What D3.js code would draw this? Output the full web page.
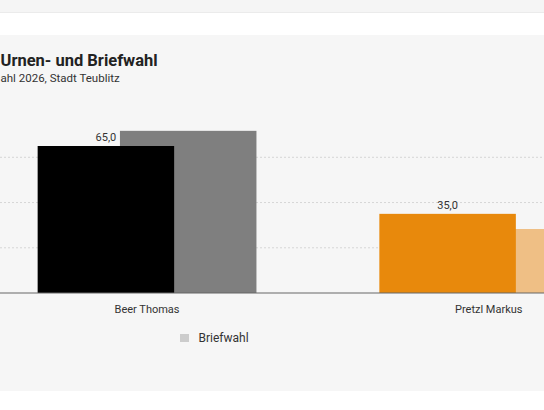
<!DOCTYPE html>
<html>
<head>
<meta charset="utf-8">
<script src="https://cdn.jsdelivr.net/npm/d3@7"></script>
<style>
  html, body { margin: 0; padding: 0; background: #ffffff; }
  svg { display: block; font-family: Roboto, "Noto Sans", sans-serif; }
</style>
</head>
<body>
<svg id="chart" width="544" height="410"></svg>
<script>
// ---- data ----
const categories = ["Beer Thomas", "Pretzl Markus"];
const seriesNames = ["Urnenwahl", "Briefwahl"];
const urnenwahl = [65.0, 35.0];
const briefwahl = [71.7, 28.3];
const barLabels = ["65,0", "35,0"];
const yTicks = [20, 40, 60];
const titleText = "Urnen- und Briefwahl";
const subtitleText = "ahl 2026, Stadt Teublitz";

// ---- colors ----
const frontColors = ["#000000", "#e8890c"];
const backColors = ["#7f7f7f", "#efbf85"];

const svg = d3.select("#chart");

// backgrounds
svg.append("rect").attr("x", 0).attr("y", 0).attr("width", 544).attr("height", 12.5).attr("fill", "#f5f5f5");
svg.append("line").attr("x1", 0).attr("x2", 544).attr("y1", 12.5).attr("y2", 12.5).attr("stroke", "#ebebeb");
svg.append("rect").attr("x", 0).attr("y", 35).attr("width", 544).attr("height", 356).attr("fill", "#f6f6f6");

// title
svg.append("text").attr("x", 0.5).attr("y", 66)
  .attr("font-size", 16.5).attr("font-weight", 700).attr("fill", "#222")
  .text(titleText);
svg.append("text").attr("x", 0.5).attr("y", 81.5)
  .attr("font-size", 11.5).attr("fill", "#333")
  .text(subtitleText);

// scales
const x = d3.scaleBand().domain(categories).range([-23.8, 659.6]).padding(0);
const y = d3.scaleLinear().domain([0, 65]).range([293, 146]);

const barW = 136.5;
const offset = 82.3;

// gridlines
const g = svg.append("g");
g.selectAll("line.grid").data(yTicks).join("line")
  .attr("class", "grid")
  .attr("x1", 0).attr("x2", 544)
  .attr("y1", d => y(d)).attr("y2", d => y(d))
  .attr("stroke", "#d6d6d6").attr("stroke-width", 1)
  .attr("stroke-dasharray", "2,2");

const center = c => x(c) + x.bandwidth() / 2;
const leftStart = c => center(c) - (barW + offset) / 2;

// back bars (Briefwahl)
g.selectAll("rect.brief").data(categories).join("rect")
  .attr("class", "brief")
  .attr("x", (c) => leftStart(c) + offset)
  .attr("width", barW)
  .attr("y", (c, i) => y(briefwahl[i]))
  .attr("height", (c, i) => y(0) - y(briefwahl[i]))
  .attr("fill", (c, i) => backColors[i]);

// front bars (Urnenwahl)
g.selectAll("rect.urne").data(categories).join("rect")
  .attr("class", "urne")
  .attr("x", c => leftStart(c))
  .attr("width", barW)
  .attr("y", (c, i) => y(urnenwahl[i]))
  .attr("height", (c, i) => y(0) - y(urnenwahl[i]))
  .attr("fill", (c, i) => frontColors[i]);

// value labels
g.selectAll("text.val").data(categories).join("text")
  .attr("class", "val")
  .attr("x", c => leftStart(c) + barW / 2)
  .attr("y", (c, i) => y(urnenwahl[i]) - 5)
  .attr("text-anchor", "middle")
  .attr("font-size", 11).attr("fill", "#333")
  .text((c, i) => barLabels[i]);

// baseline
g.append("line").attr("x1", 0).attr("x2", 544)
  .attr("y1", y(0)).attr("y2", y(0))
  .attr("stroke", "#666").attr("stroke-width", 1);

// x axis labels
const xAxis = d3.axisBottom(x).tickSize(0).tickPadding(12);
const ax = svg.append("g").attr("transform", `translate(0,${y(0)})`).call(xAxis);
ax.select(".domain").remove();
ax.selectAll("text").attr("font-size", 11).attr("fill", "#333")
  .attr("font-family", "Roboto, 'Noto Sans', sans-serif");

// legend (only Briefwahl visible within the frame)
const leg = svg.append("g").attr("transform", "translate(180,334)");
leg.append("rect").attr("width", 9).attr("height", 8).attr("fill", "#cccccc");
leg.append("text").attr("x", 18.5).attr("y", 8).attr("font-size", 12).attr("fill", "#333")
  .text(seriesNames[1]);
</script>
</body>
</html>
